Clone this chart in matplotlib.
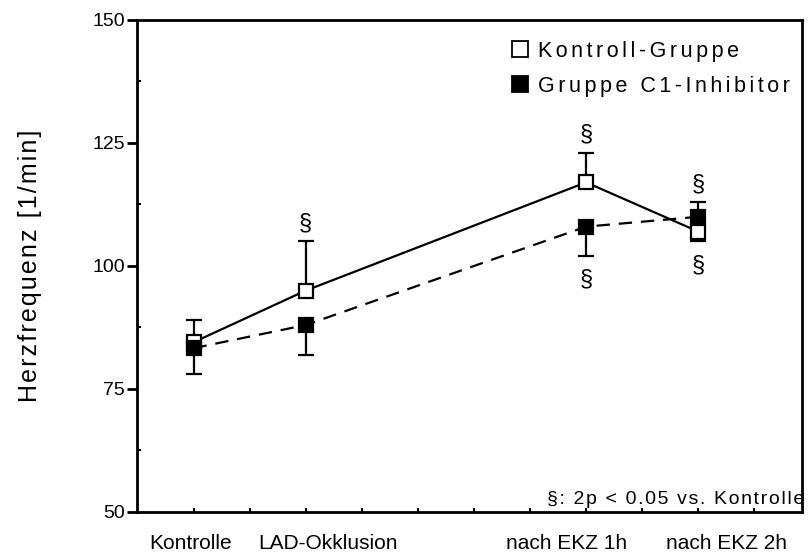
import matplotlib
matplotlib.use('Agg')
import matplotlib.pyplot as plt
import matplotlib.ticker as mticker
from matplotlib.lines import Line2D

plt.rcParams['font.family'] = ['Liberation Sans', 'DejaVu Sans']

# time points of the protocol
timepoints = ['Kontrolle', 'LAD-Okklusion', 'nach EKZ 1h', 'nach EKZ 2h']
x_pos = [1, 3, 8, 10]

group_names = ['Kontroll-Gruppe', 'Gruppe C1-Inhibitor']

# heart rate [1/min], control group
hr_ctrl = [84.5, 95, 117, 107]
ctrl_err_lo = [0, 0, 0, 2]
ctrl_err_hi = [4.5, 10, 6, 0]
ctrl_sig = [False, True, True, True]

# heart rate [1/min], C1-inhibitor group
hr_c1 = [83.3, 88, 108, 110]
c1_err_lo = [5.3, 6, 6, 0]
c1_err_hi = [0, 0, 0, 3]
c1_sig = [False, False, True, True]

footnote = '§: 2p < 0.05 vs. Kontrolle'
ylabel = 'Herzfrequenz [1/min]'

# where the category names sit on the x axis (layout only)
label_pos = [0.94, 3.39, 7.65, 10.5]


def spaced(s, sep='\u200a'):
    # old plotting software spread the letters out a bit
    return sep.join(s)


fig = plt.figure(figsize=(8.11, 5.57), dpi=100)
ax = fig.add_axes([0.1695, 0.0808, 0.8194, 0.8833])

# error bars first, markers go on top
ax.errorbar(x_pos, hr_ctrl, yerr=[ctrl_err_lo, ctrl_err_hi], fmt='none',
            ecolor='k', elinewidth=1.6, capsize=6, capthick=1.6, zorder=2)
ax.errorbar(x_pos, hr_c1, yerr=[c1_err_lo, c1_err_hi], fmt='none',
            ecolor='k', elinewidth=1.6, capsize=6, capthick=1.6, zorder=2)

ax.plot(x_pos, hr_ctrl, color='k', lw=1.6, marker='s', ms=9.5,
        mfc='white', mec='k', mew=1.6, zorder=4)
ax.plot(x_pos, hr_c1, color='k', lw=1.6, dashes=(6, 4), marker='s', ms=9.5,
        mfc='k', mec='k', mew=1.6, zorder=5)

# significance marks at the end of the error bars
for vals, lo, hi, sig in [(hr_ctrl, ctrl_err_lo, ctrl_err_hi, ctrl_sig),
                          (hr_c1, c1_err_lo, c1_err_hi, c1_sig)]:
    for xi, v, l, h, s in zip(x_pos, vals, lo, hi, sig):
        if not s:
            continue
        if h > 0:
            ax.annotate('§', (xi, v + h), xytext=(0, 13), textcoords='offset points',
                        ha='center', va='center', fontsize=17)
        else:
            ax.annotate('§', (xi, v - l), xytext=(0, -17), textcoords='offset points',
                        ha='center', va='center', fontsize=17)

ax.set_xlim(0, 11.85)
ax.set_ylim(50, 150)
ax.set_yticks([50, 75, 100, 125, 150])
ax.yaxis.set_minor_locator(mticker.MultipleLocator(12.5))
ax.set_xticks(label_pos, timepoints)
ax.xaxis.set_minor_locator(mticker.FixedLocator(range(1, 12)))

ax.tick_params(axis='y', which='major', direction='out', length=7, width=2,
               labelsize=14, pad=2)
ax.tick_params(axis='y', which='minor', direction='in', length=3, width=1.5)
ax.tick_params(axis='x', which='major', length=0, labelsize=15, pad=16)
ax.tick_params(axis='x', which='minor', direction='in', length=3, width=1.5)

for sp in ax.spines.values():
    sp.set_linewidth(2)

ax.set_ylabel(spaced(ylabel), fontsize=18)
ax.yaxis.set_label_coords(-0.144, 0.5)

ax.text(1.004, 0.016, spaced(footnote), transform=ax.transAxes,
        ha='right', va='baseline', fontsize=14)

handles = [Line2D([], [], ls='none', marker='s', ms=11, mfc='white', mec='k', mew=1.3),
           Line2D([], [], ls='none', marker='s', ms=11, mfc='k', mec='k', mew=1.3)]
ax.legend(handles, [spaced(g, '\u200a\u200a') for g in group_names], loc='upper left',
          bbox_to_anchor=(0.562, 0.958), frameon=False, fontsize=15.5,
          handlelength=0.85, handletextpad=0.4, labelspacing=0.65,
          borderpad=0, borderaxespad=0)

plt.savefig('out.png', dpi=100)
